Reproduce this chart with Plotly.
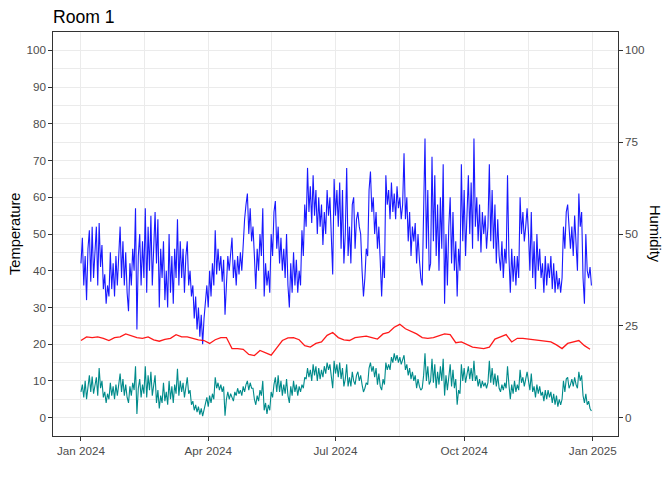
import pandas as pd
import plotly.graph_objects as go

# ---- data ----
# Blue series (humidity-like), one value per day from 2024-01-01
blue_vals = [
    42, 49, 36, 44, 32, 46, 51, 37, 52, 38, 45, 52, 36, 53, 41, 47, 35, 39, 31, 36,
    33, 45, 35, 42, 33, 44, 36, 46, 52, 38, 48, 36, 45, 34, 29, 42, 36, 46, 40, 57,
    24, 44, 50, 36, 48, 38, 57, 34, 52, 40, 55, 36, 48, 56, 42, 54, 30, 46, 38, 48,
    32, 40,
    30, 50, 34, 44, 31, 46, 38, 54, 36, 48, 38, 46, 34, 44, 48, 36, 40, 33, 36, 27,
    33, 24, 30, 22, 28, 20, 27, 32, 36, 30, 40, 33, 42, 36, 51, 39, 46, 40, 44, 37,
    43, 28, 38, 44, 40, 46, 49, 38, 43, 36, 44, 39, 45, 40, 48, 54, 58, 61, 50, 57,
    48,
    52, 44, 35, 46, 40, 50, 44, 57, 33, 42, 36, 40, 34, 50, 44, 56, 59, 46, 52, 42,
    49, 40, 46, 38, 50, 36, 30, 42, 34, 45, 36, 43, 34, 40, 36, 51, 44, 58, 52, 68,
    56, 63, 53, 66, 55, 62, 50, 60, 52, 58, 47, 56, 50, 62, 55, 60, 48, 39, 65, 55,
    62, 52, 64, 46,
    62, 42, 50, 68, 44, 52, 42, 58, 60, 46, 54, 56, 52, 50, 40, 33, 38, 46, 44, 62,
    67, 56, 60, 50, 56, 46, 52, 40, 33, 44, 38, 66, 58, 62, 54, 64, 56, 61, 54, 63,
    57, 60, 54, 58, 72, 54, 60, 48, 56, 44, 52, 48, 53, 42, 50, 43, 38, 36, 52, 76,
    46, 62, 40,
    42, 71, 48, 66, 44, 58, 40, 60, 46, 69, 31, 50, 36, 52, 60, 42, 56, 40, 48, 33,
    46, 40, 69, 48, 62, 44, 58, 66, 50, 64, 46, 76, 52, 60, 48, 58, 45, 56, 50, 55,
    46, 52, 69, 48, 62, 46, 58, 42, 54, 44, 40, 48, 38, 46, 42, 66, 44, 34, 46, 37,
    44, 36,
    44, 38, 60, 50, 56, 48, 52, 57, 50, 40, 56, 38, 48, 35, 50, 40, 46, 38, 42, 34,
    44, 36, 42, 38, 44, 35, 42, 34, 40, 35, 38, 34, 38, 52, 46, 56, 58, 50, 46, 52,
    44, 55, 48, 40, 61, 52, 56, 38, 31, 50, 40, 38, 41, 36,
]

# Dark cyan series, one value per day from 2024-01-01
teal_vals = [
    7.0, 9.0, 5.5, 10.0, 5.0, 8.0, 11.5, 7.0, 11.2, 6.5, 9.0, 11.0, 6.0, 13.5, 8.0, 10.0,
    5.5, 7.0, 4.0, 6.5, 5.0, 9.5, 6.0, 8.5, 5.0, 9.0, 6.0, 9.5, 12.0, 7.0, 10.5, 6.0,
    9.0, 5.5, 4.0, 8.5, 6.0, 9.5, 7.5, 14.0, 1.0, 8.0, 10.5, 5.5, 9.0, 6.5, 14.0, 5.5,
    11.5, 7.5, 12.5, 6.0, 9.5, 11.5, 4.0, 7.5, 2.5, 6.0, 4.0, 9.5, 4.5, 7.0,
    3.5, 10.0, 5.0, 8.5, 4.0, 9.0, 6.5, 13.3, 6.0, 10.0, 7.0, 9.5, 5.5, 8.5, 11.0, 6.5,
    7.5, 3.5, 4.5, 2.0, 3.5, 1.5, 3.0, 0.8, 2.5, 0.4, 2.0, 4.0, 5.5, 3.0, 6.0, 4.0,
    6.5, 5.0, 11.0, 8.0, 9.5, 7.5, 9.0, 7.0, 8.5, 0.5, 5.0, 7.0, 5.0, 6.5, 5.5, 4.5,
    7.0, 6.0, 8.0, 6.5, 7.5, 6.0, 8.5, 7.0, 9.0, 10.0, 7.5, 9.5, 8.0,
    8.0, 5.0, 3.5, 6.0, 4.5, 7.5, 6.0, 10.0, 2.0, 4.0, 1.0, 3.5, 2.0, 7.0, 5.5, 9.0,
    11.0, 7.0, 11.5, 7.0, 10.0, 6.0, 9.0, 6.5, 10.5, 6.0, 4.0, 8.5, 6.0, 10.0, 7.0, 9.0,
    6.0, 8.5, 7.0, 9.0, 8.0, 11.0, 10.5, 13.5, 11.0, 13.0, 10.0, 14.5, 11.5, 14.0, 10.0,
    13.5, 10.5, 13.0, 11.0, 14.0, 12.0, 15.0, 13.0, 14.5, 10.5, 8.0, 15.5, 12.0, 14.5,
    11.0, 15.0, 10.5,
    13.5, 8.5, 10.5, 14.5, 8.5, 11.0, 8.5, 12.5, 10.0, 9.0, 11.5, 12.5, 10.0, 11.5, 9.0,
    7.0, 8.0, 9.5, 9.0, 13.5, 15.0, 12.5, 14.0, 11.0, 13.5, 9.0, 12.0, 8.5, 7.5, 10.5,
    9.0, 15.0, 13.0, 14.5, 13.0, 16.5, 15.0, 17.5, 15.5, 17.0, 15.0, 16.5, 14.5, 15.5,
    17.0, 13.0, 14.5, 11.5, 13.5, 10.5, 12.5, 10.0, 11.5, 8.0, 10.5, 8.5, 7.5, 8.0,
    11.5, 17.5, 10.0, 14.0, 9.0,
    10.0, 16.0, 9.5, 14.5, 8.0, 12.5, 9.0, 14.0, 10.0, 16.0, 6.0, 11.5, 7.5, 12.0, 14.5,
    8.5, 13.0, 8.0, 10.5, 3.5, 7.5, 6.5, 14.5, 10.0, 13.5, 9.5, 12.5, 14.0, 10.5, 13.5,
    10.0, 15.5, 10.0, 11.5, 8.5, 10.5, 8.0, 10.0, 8.5, 9.5, 8.0, 9.5, 15.5, 9.5, 13.5,
    9.0, 12.0, 8.5, 11.5, 8.0, 7.0, 9.0, 7.5, 9.5, 8.0, 14.0, 9.0, 5.0, 9.0, 6.5, 10.0,
    7.0,
    9.0, 7.5, 13.0, 9.5, 11.0, 8.5, 10.5, 12.5, 10.0, 7.5, 12.0, 7.0, 8.5, 5.5, 9.0, 6.5,
    8.5, 6.0, 7.0, 4.5, 7.5, 5.0, 7.5, 5.5, 7.0, 4.0, 6.5, 3.5, 6.0, 3.0, 5.0, 3.5,
    5.0, 10.0, 7.0, 10.5, 11.0, 8.0, 9.0, 10.5, 8.5, 11.0, 9.0, 8.0, 12.5, 10.0, 11.5,
    6.0, 4.0, 6.5, 3.5, 4.5, 2.5, 1.8,
]

# Red series (temperature), one value every 4 days from 2024-01-01
red_vals = [
    21.0, 22.0, 21.8, 22.0, 21.6, 21.0, 21.8, 22.0, 22.8, 22.2, 21.8, 21.6, 22.0, 21.2,
    20.8, 21.3, 21.6, 22.6, 22.0, 22.0, 21.5, 21.2, 21.0, 20.2, 21.2, 21.8, 21.8, 18.8,
    18.8, 18.6, 17.2, 16.9, 18.3, 17.6, 17.0, 19.0, 21.0, 21.7, 21.8, 21.2, 19.6, 19.2,
    20.2, 20.6, 22.4, 23.2, 21.8, 21.2, 21.0, 21.8, 22.0, 22.2, 21.8, 21.4, 22.8, 23.2,
    24.6, 25.4, 24.2, 23.6, 22.8, 21.8, 21.6, 21.8, 22.4, 22.8, 22.6, 20.4, 20.6, 19.8,
    19.2, 19.0, 18.8, 19.2, 21.4, 22.0, 22.6, 20.6, 21.6, 21.6, 21.4, 21.4, 21.2, 21.0,
    20.6, 19.8, 18.8, 20.2, 20.6, 21.0, 19.6, 18.6,
]

x_tick_dates = ["2024-01-01", "2024-04-01", "2024-07-01", "2024-10-01", "2025-01-01"]
x_tick_labels = ["Jan 2024", "Apr 2024", "Jul 2024", "Oct 2024", "Jan 2025"]
x_minor_dates = ["2024-02-15 12:00", "2024-05-16 12:00", "2024-08-16", "2024-11-16"]
y_left_ticks = list(range(0, 101, 10))
y_right_ticks = [0, 25, 50, 75, 100]

blue_dates = pd.date_range("2024-01-01", periods=len(blue_vals), freq="D")
teal_dates = pd.date_range("2024-01-01", periods=len(teal_vals), freq="D")
red_dates = pd.date_range("2024-01-01", periods=len(red_vals), freq="4D")

fig = go.Figure()
fig.add_trace(go.Scatter(x=blue_dates, y=blue_vals, mode="lines",
                         line=dict(color="rgba(0,0,255,0.9)", width=1.1), showlegend=False))
fig.add_trace(go.Scatter(x=red_dates, y=red_vals, mode="lines",
                         line=dict(color="rgba(255,0,0,0.9)", width=1.3), showlegend=False))
fig.add_trace(go.Scatter(x=teal_dates, y=teal_vals, mode="lines",
                         line=dict(color="#008B8B", width=1.1), showlegend=False))
# invisible trace to activate the secondary axis
fig.add_trace(go.Scatter(x=[blue_dates[0]], y=[0], yaxis="y2", mode="markers",
                         marker=dict(opacity=0), showlegend=False, hoverinfo="skip"))

FONT = "Liberation Sans, Arial, sans-serif"
tickfont = dict(family=FONT, size=11.7, color="#4D4D4D")

W, H = 664, 472  # page body has an 8px margin
fig.update_layout(
    width=W, height=H,
    margin=dict(l=45, r=54, t=24, b=44),
    paper_bgcolor="white", plot_bgcolor="white",
    font=dict(family=FONT),
    title=dict(text="Room 1", x=45 / W, xref="container", xanchor="left",
               y=1 - 9 / H, yref="container", yanchor="middle",
               font=dict(family=FONT, size=17.6, color="black")),
    xaxis=dict(
        type="date", range=["2023-12-12", "2025-01-19"],
        tickmode="array", tickvals=x_tick_dates, ticktext=x_tick_labels,
        tickfont=tickfont, ticks="outside", ticklen=3.7, tickwidth=1, tickcolor="#333333",
        showgrid=True, gridcolor="#EBEBEB", gridwidth=1,
        minor=dict(tickmode="array", tickvals=x_minor_dates, showgrid=True,
                   gridcolor="#EBEBEB", gridwidth=0.6, ticks=""),
        showline=True, linecolor="#333333", linewidth=1, mirror=True,
        zeroline=False, automargin=False,
    ),
    yaxis=dict(
        range=[-5, 105], tickmode="array", tickvals=y_left_ticks,
        tickfont=tickfont, ticks="outside", ticklen=3.7, tickwidth=1, tickcolor="#333333",
        showgrid=True, gridcolor="#EBEBEB", gridwidth=1,
        minor=dict(tickmode="linear", tick0=5, dtick=10, showgrid=True,
                   gridcolor="#EBEBEB", gridwidth=0.6, ticks=""),
        showline=True, linecolor="#333333", linewidth=1, mirror=True,
        zeroline=False, automargin=False,
    ),
    yaxis2=dict(
        overlaying="y", side="right", range=[-5, 105], tickmode="array",
        tickvals=y_right_ticks, tickfont=tickfont, ticks="outside", ticklen=3.7,
        tickwidth=1, tickcolor="#333333", showgrid=False, zeroline=False,
        showline=False, automargin=False,
    ),
    annotations=[
        dict(text="Temperature", xref="paper", yref="paper", x=0, y=0.5,
             xanchor="center", yanchor="middle",
             xshift=-38, showarrow=False, textangle=-90,
             font=dict(family=FONT, size=14.7, color="black")),
        dict(text="Humidity", xref="paper", yref="paper", x=1, y=0.5,
             xanchor="center", yanchor="middle",
             xshift=37, showarrow=False, textangle=90,
             font=dict(family=FONT, size=14.7, color="black")),
    ],
)

fig.write_html("out.html")
